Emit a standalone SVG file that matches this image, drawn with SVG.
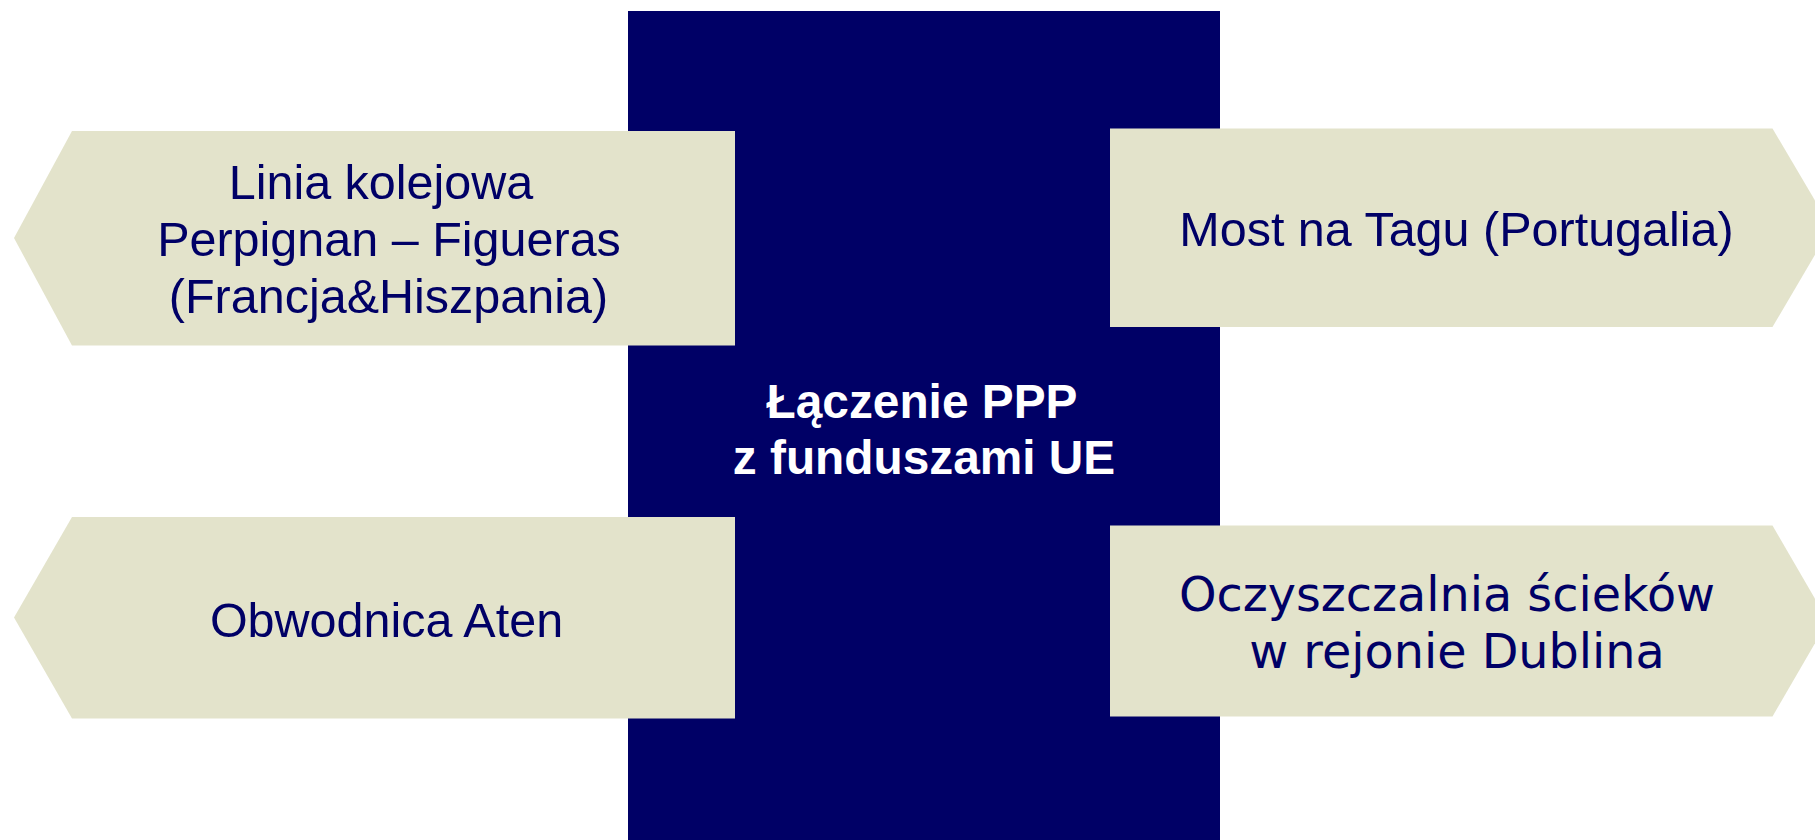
<svg xmlns="http://www.w3.org/2000/svg" width="1815" height="840" viewBox="0 0 1815 840">
  <style>
    .hub { fill: #000066; }
    .arrow { fill: #E3E3CB; }
    .lbl { font-family: "Liberation Sans", Arial, sans-serif; font-size: 48.5px; fill: #000066; text-anchor: middle; }
    .lbl2 { font-family: "DejaVu Sans", Verdana, sans-serif; font-size: 47.7px; fill: #000066; text-anchor: middle; }
    .hubtxt { font-family: "Liberation Sans", Arial, sans-serif; font-size: 47.8px; font-weight: bold; fill: #FFFFFF; text-anchor: middle; }
  </style>
  <rect width="1815" height="840" fill="#FFFFFF"/>
  <g id="hub">
    <rect class="hub" x="628" y="11" width="592" height="829"/>
    <text class="hubtxt" x="922" y="418">Łączenie PPP</text>
    <text class="hubtxt" x="924" y="474">z funduszami UE</text>
  </g>
  <g id="connectors"></g>
  <g id="node-perpignan">
    <polygon class="arrow" points="72,131 735,131 735,345.5 72,345.5 14,238"/>
    <text class="lbl" x="381" y="199">Linia kolejowa</text>
    <text class="lbl" x="389" y="256">Perpignan – Figueras</text>
    <text class="lbl" x="388.5" y="313">(Francja&amp;Hiszpania)</text>
  </g>
  <g id="node-tag">
    <polygon class="arrow" points="1110,128.5 1772.5,128.5 1831,227.5 1772.5,327 1110,327"/>
    <text class="lbl" x="1456.5" y="246">Most na Tagu (Portugalia)</text>
  </g>
  <g id="node-aten">
    <polygon class="arrow" points="72,517 735,517 735,718.5 72,718.5 14,617.5"/>
    <text class="lbl" x="386.5" y="636.5">Obwodnica Aten</text>
  </g>
  <g id="node-dublin">
    <polygon class="arrow" points="1110,525.5 1772.5,525.5 1828,621 1772.5,716.5 1110,716.5"/>
    <text class="lbl2" x="1447" y="611">Oczyszczalnia ścieków</text>
    <text class="lbl2" x="1457" y="668">w rejonie Dublina</text>
  </g>
</svg>
